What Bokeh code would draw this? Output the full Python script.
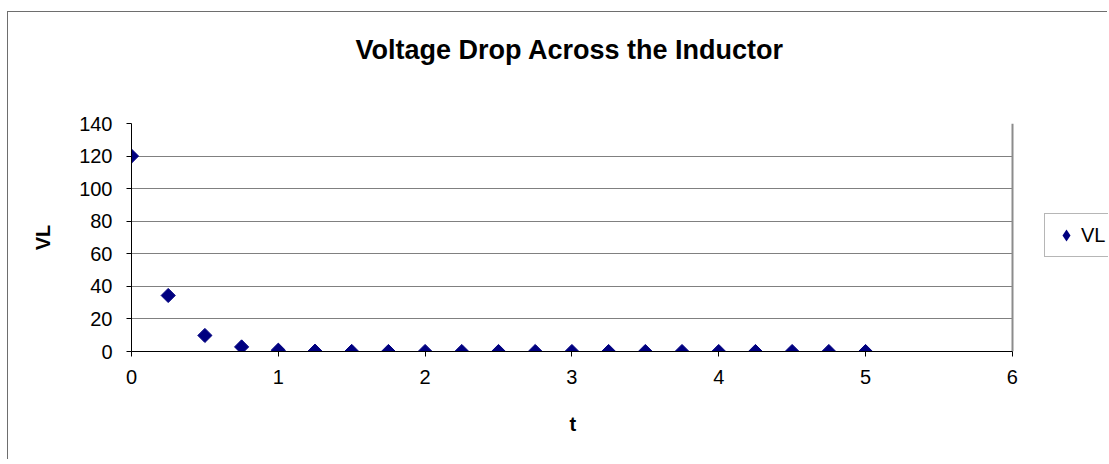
from bokeh.plotting import figure
from bokeh.models import (Range1d, SingleIntervalTicker, FixedTicker, Legend, LegendItem,
                          LinearAxis, Grid, Title)
from bokeh.embed import file_html
from bokeh.resources import INLINE
import math

# Data
t = [0.0, 0.25, 0.5, 0.75, 1.0, 1.25, 1.5, 1.75, 2.0, 2.25, 2.5,
     2.75, 3.0, 3.25, 3.5, 3.75, 4.0, 4.25, 4.5, 4.75, 5.0]
VL = [120.0, 34.4, 9.85, 2.82, 0.81, 0.23, 0.066, 0.019, 0.005, 0.0016, 0.0004,
      0.0001, 0.0, 0.0, 0.0, 0.0, 0.0, 0.0, 0.0, 0.0, 0.0]
title_text = "Voltage Drop Across the Inductor"
x_label = "t"
y_label = "VL"
series_name = "VL"
x_min, x_max = 0, 6
y_min, y_max = 0, 140

FONT = "Liberation Sans"
NAVY = "#000080"

# the frame is extended to the right so that the legend can sit inside it;
# the visible axis, grid and border are bounded to the 0..6 range
p = figure(width=1100, height=448, output_backend="svg", toolbar_location=None,
           x_range=Range1d(x_min, 6.655), y_range=Range1d(y_min, y_max),
           min_border_left=123, min_border_right=0, min_border_top=111, min_border_bottom=109)
p.styles = {"border-top": "1px solid #6e6e6e", "border-left": "1px solid #6e6e6e",
            "margin-top": "11px", "margin-left": "7px"}

p.background_fill_color = "white"
p.border_fill_color = "white"
p.outline_line_color = None

# axes
p.xaxis.ticker = SingleIntervalTicker(interval=1)
p.yaxis.ticker = SingleIntervalTicker(interval=20)
p.xaxis.bounds = (x_min, x_max)
for ax in (p.xaxis[0], p.yaxis[0]):
    ax.axis_line_color = "black"
    ax.axis_line_width = 1
    ax.major_tick_line_color = "black"
    ax.major_tick_in = 0
    ax.major_tick_out = 5
    ax.minor_tick_line_color = None
    ax.major_label_text_font = FONT
    ax.major_label_text_font_size = "20px"
    ax.major_label_text_color = "black"
    ax.axis_label_text_font = FONT
    ax.axis_label_text_font_size = "20px"
    ax.axis_label_text_font_style = "bold"
    ax.axis_label_text_color = "black"

p.yaxis.axis_label = y_label
p.xaxis.major_label_standoff = 13
p.yaxis.major_label_standoff = 14
p.yaxis.axis_label_standoff = 22

# x-axis title, placed over the 0..6 part of the frame
x_title = Title(text=x_label, align="left", offset=438, standoff=48,
                text_font=FONT, text_font_size="20px", text_font_style="bold",
                text_color="black")
p.add_layout(x_title, "below")

# invisible spacer above the frame (one white, label-less tick), then the chart title
spacer = LinearAxis(ticker=FixedTicker(ticks=[x_min]), axis_line_color=None,
                    major_tick_line_color="white", minor_tick_line_color=None,
                    major_tick_in=0, major_tick_out=42, major_label_standoff=0,
                    major_label_overrides={x_min: ""},
                    major_label_text_font_size="0px")
p.add_layout(spacer, "above")

p.title.text = title_text
p.title.align = "left"
p.title.offset = 224
p.title.standoff = 34
p.title.text_font = FONT
p.title.text_font_size = "27px"
p.title.text_font_style = "bold"
p.title.text_color = "black"

p.xgrid.grid_line_color = None
p.ygrid.grid_line_color = "#808080"
p.ygrid.grid_line_width = 1
p.ygrid.cross_bounds = (x_min, x_max)

# plot-area border (top and right)
p.add_layout(Grid(dimension=1, ticker=FixedTicker(ticks=[y_max]), cross_bounds=(x_min, x_max),
                  grid_line_color="#8c8c8c", grid_line_width=2))
p.add_layout(Grid(dimension=0, ticker=FixedTicker(ticks=[x_max]), cross_bounds=(y_min, y_max),
                  grid_line_color="#8c8c8c", grid_line_width=2))

r = p.scatter(t, VL, marker="square", angle=math.pi / 4, size=10,
              fill_color=NAVY, line_color=NAVY)
# legend swatch: legend glyphs are not rotated, so a zero-size diamond series
# supplies the diamond key (legend marker size comes from the glyph box)
r_key = p.scatter(t, VL, marker="diamond", size=0, fill_color=NAVY, line_color=None)

legend = Legend(items=[LegendItem(label=series_name, renderers=[r_key])],
                location=(913, 94), orientation="vertical",
                label_text_font=FONT, label_text_font_size="20px",
                label_text_color="black",
                border_line_color="#6e6e6e", border_line_width=1,
                background_fill_color="white", background_fill_alpha=1,
                padding=6, spacing=0, label_standoff=-8,
                glyph_width=30, glyph_height=30, label_height=30, margin=0)
p.add_layout(legend, "center")

open("out.html", "w").write(file_html(p, INLINE))
